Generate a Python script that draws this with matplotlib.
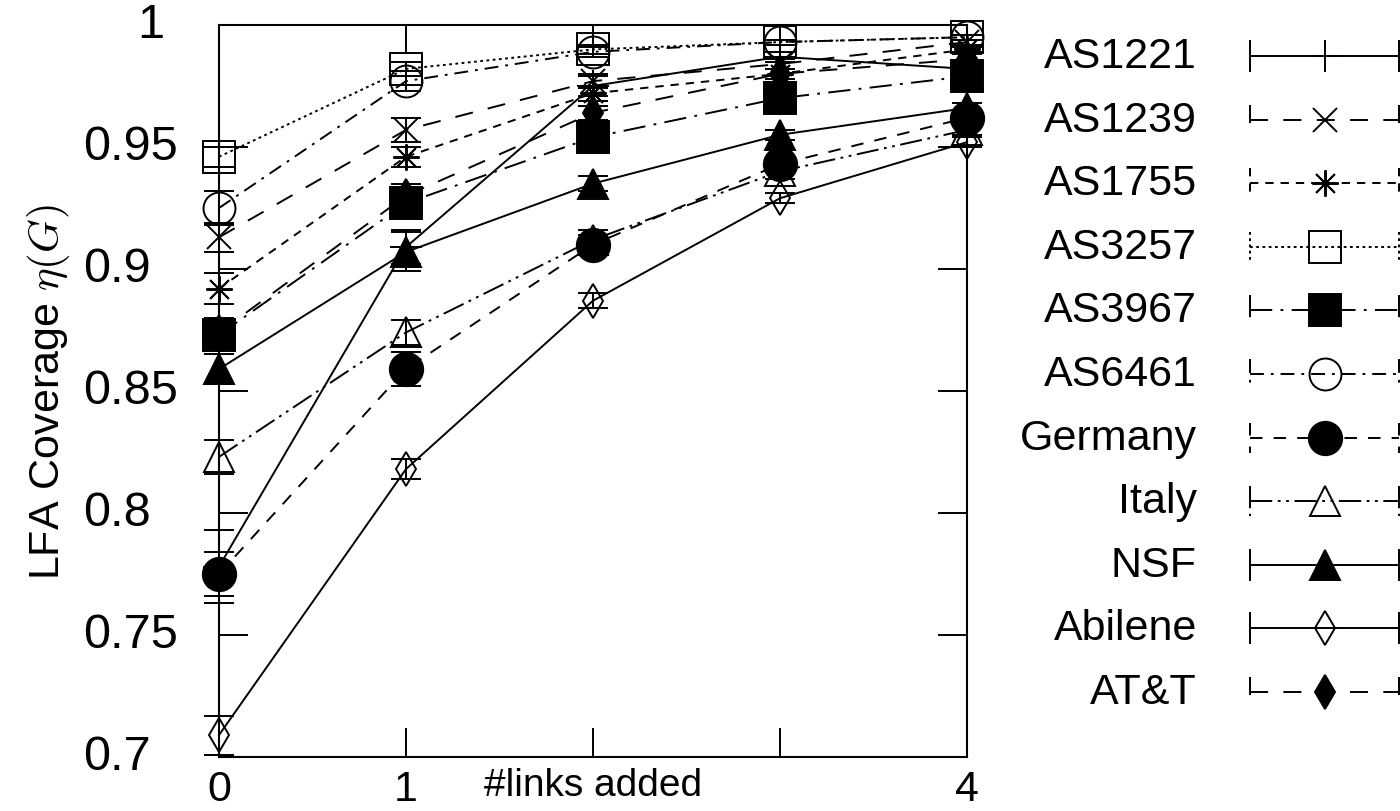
import matplotlib
matplotlib.use('Agg')
import matplotlib.pyplot as plt
from matplotlib.transforms import blended_transform_factory

plt.rcParams['font.family'] = ['Liberation Sans', 'DejaVu Sans']
plt.rcParams['mathtext.fontset'] = 'cm'
plt.rcParams['lines.scale_dashes'] = False

# ---------------- data ----------------
links = [0, 1, 2, 3, 4]
x_tick_labels = ['0', '1', '', '', '4']
y_ticks = [0.7, 0.75, 0.8, 0.85, 0.9, 0.95, 1.0]
y_tick_labels = ['0.7', '0.75', '0.8', '0.85', '0.9', '0.95', '1']

names = ['AS1221', 'AS1239', 'AS1755', 'AS3257', 'AS3967', 'AS6461',
         'Germany', 'Italy', 'NSF', 'Abilene', 'AT&T']

as1221 = [0.778, 0.909, 0.975, 0.987, 0.982]
as1239 = [0.913, 0.957, 0.977, 0.984, 0.993]
as1755 = [0.892, 0.946, 0.972, 0.980, 0.990]
as3257 = [0.946, 0.982, 0.990, 0.993, 0.995]
as3967 = [0.873, 0.927, 0.954, 0.970, 0.979]
as6461 = [0.925, 0.977, 0.989, 0.993, 0.995]
germany = [0.775, 0.859, 0.910, 0.943, 0.962]
italy = [0.823, 0.874, 0.912, 0.940, 0.957]
nsf = [0.859, 0.907, 0.935, 0.955, 0.966]
abilene = [0.709, 0.818, 0.887, 0.929, 0.952]
att = [0.874, 0.930, 0.964, 0.980, 0.986]

as1221_err = [0.015, 0.007, 0.004, 0.002, 0.002]
as1239_err = [0.006, 0.005, 0.003, 0.002, 0.001]
as1755_err = [0.0065, 0.004, 0.003, 0.002, 0.001]
as3257_err = [0.004, 0.003, 0.002, 0.001, 0.001]
as3967_err = [0.006, 0.005, 0.003, 0.002, 0.002]
as6461_err = [0.007, 0.004, 0.002, 0.001, 0.001]
germany_err = [0.009, 0.007, 0.004, 0.003, 0.002]
italy_err = [0.007, 0.005, 0.004, 0.003, 0.002]
nsf_err = [0.006, 0.008, 0.003, 0.002, 0.002]
abilene_err = [0.008, 0.004, 0.003, 0.002, 0.002]
att_err = [0.006, 0.005, 0.003, 0.002, 0.002]

values = [as1221, as1239, as1755, as3257, as3967, as6461,
          germany, italy, nsf, abilene, att]
errors = [as1221_err, as1239_err, as1755_err, as3257_err, as3967_err,
          as6461_err, germany_err, italy_err, nsf_err, abilene_err, att_err]

# ---------------- styles ----------------
LW = 1.4
styles = {
    'AS1221': dict(marker='+', ms=23, mfc='none', dash=None),
    'AS1239': dict(marker='x', ms=17, mfc='none', dash=(13, 11)),
    'AS1755': dict(marker=(8, 2, 0), ms=19, mfc='none', dash=(6, 5)),
    'AS3257': dict(marker='s', ms=23, mfc='none', dash=(2, 2.5)),
    'AS3967': dict(marker='s', ms=23, mfc='black', dash=(16, 6, 2, 6)),
    'AS6461': dict(marker='o', ms=23, mfc='none', dash=(10, 5, 2, 5)),
    'Germany': dict(marker='o', ms=24, mfc='black', dash=(9, 8)),
    'Italy': dict(marker='^', ms=21, mfc='none', dash=(16, 4, 2, 4, 2, 4)),
    'NSF': dict(marker='^', ms=21, mfc='black', dash=None),
    'Abilene': dict(marker='d', ms=17, mfc='none', dash=None),
    'AT&T': dict(marker='d', ms=17, mfc='black', dash=(13, 11)),
}


def lstyle(d):
    return '-' if d is None else (0, d)


FS = 31
fig = plt.figure(figsize=(14, 8.12), dpi=100)
ax = fig.add_axes([219 / 1400, 1 - 758 / 812, 748 / 1400, 732 / 812])

for name, vals, errs in zip(names, values, errors):
    st = styles[name]
    cont = ax.errorbar(links, vals, yerr=errs, color='black', lw=LW,
                       ls=lstyle(st['dash']), marker=st['marker'],
                       ms=st['ms'], mfc=st['mfc'], mec='black', mew=LW,
                       capsize=11, capthick=LW, elinewidth=LW, clip_on=False)
    for c in cont[1]:
        c.set_clip_on(False)
    for c in cont[2]:
        c.set_clip_on(False)

ax.set_xlim(0, 4)
ax.set_ylim(0.7, 1.0)
ax.set_xticks(links)
ax.set_xticklabels(x_tick_labels)
ax.set_yticks(y_ticks)
ax.tick_params(direction='in', length=21, width=LW, top=True, right=True,
               labelsize=FS, pad=9)
ax.tick_params(axis='y', labelleft=False)
for sp in ax.spines.values():
    sp.set_linewidth(1.5)

# y tick labels placed the way the original (gnuplot) output shows them
fig_x = blended_transform_factory(fig.transFigure, ax.transData)
for yv, lab in zip(y_ticks, y_tick_labels):
    if len(lab) == 1:
        ax.text(151 / 1400, yv, lab, transform=fig_x, ha='center',
                va='center', fontsize=FS + 4)
    else:
        ax.text(83 / 1400, yv, lab, transform=fig_x, ha='left',
                va='center', fontsize=FS + 4)

ax.set_xlabel('#links added', fontsize=28)
ax.xaxis.set_label_coords(0.5, -0.014)
ax.set_ylabel('LFA Coverage $\\eta(G)$', fontsize=FS)
ax.yaxis.set_label_coords(-0.196, 0.5)

# ---------------- legend (gnuplot-style key) ----------------
lg = fig.add_axes([0, 0, 1, 1], zorder=5)
lg.set_xlim(0, 1400)
lg.set_ylim(812, 0)
lg.axis('off')
row0, row_step = 57, 63.6
x_l, x_m, x_r, cap_h = 1250, 1325, 1399, 15
for i, name in enumerate(names):
    st = styles[name]
    yy = row0 + i * row_step
    lg.text(1197, yy, name, ha='right', va='center', fontsize=FS)
    lg.plot([x_l, x_r], [yy, yy], color='black', lw=LW, ls=lstyle(st['dash']),
            clip_on=False)
    for xc in (x_l, x_r):
        lg.plot([xc, xc], [yy - cap_h, yy + cap_h], color='black', lw=LW,
                ls=lstyle(st['dash']), clip_on=False)
    lg.plot([x_m], [yy], marker=st['marker'], ms=st['ms'], mfc=st['mfc'],
            mec='black', mew=LW, ls='none', clip_on=False)

fig.savefig('out.png', dpi=100)
